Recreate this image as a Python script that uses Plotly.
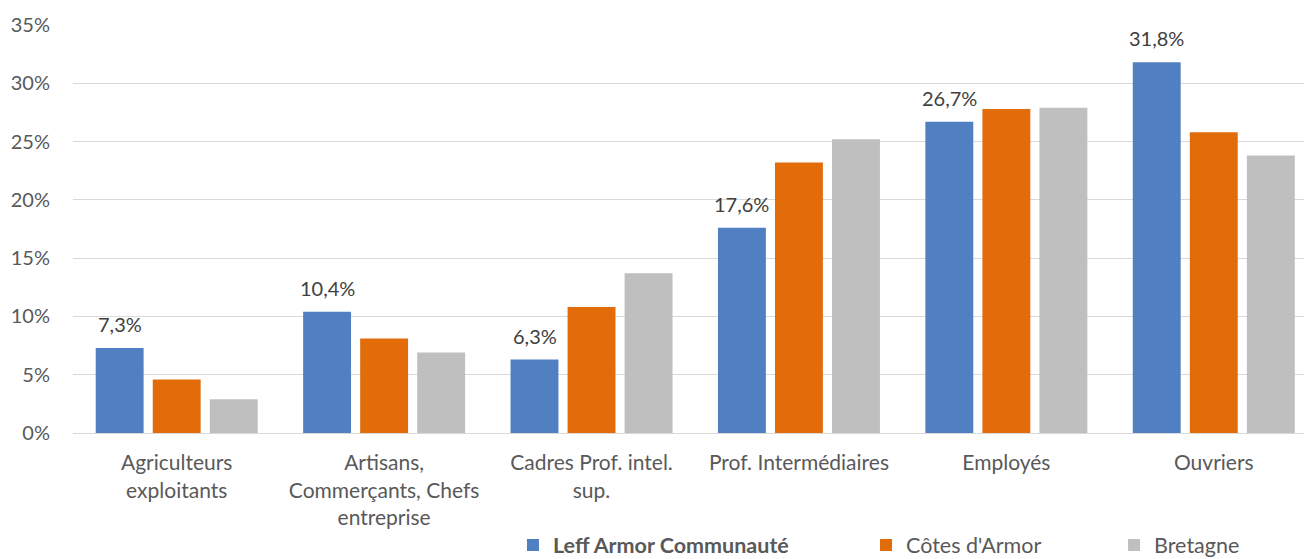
import plotly.graph_objects as go

categories = [
    "Agriculteurs<br>exploitants",
    "Artisans,<br>Commerçants, Chefs<br>entreprise",
    "Cadres Prof. intel.<br>sup.",
    "Prof. Intermédiaires",
    "Employés",
    "Ouvriers",
]
leff = [7.3, 10.4, 6.3, 17.6, 26.7, 31.8]
cotes = [4.6, 8.1, 10.8, 23.2, 27.8, 25.8]
bretagne = [2.9, 6.9, 13.7, 25.2, 27.9, 23.8]
y_ticks = [0, 5, 10, 15, 20, 25, 30, 35]
y_labels = [f"{v}%" for v in y_ticks]

FONT = "Lato, 'Open Sans', sans-serif"
BARGAP = 0.175
BARGROUPGAP = 0.16

fig = go.Figure()
fig.add_trace(go.Bar(
    name="<b>Leff Armor Communauté</b>", x=categories, y=leff,
    marker=dict(color="#5080c2", line=dict(width=0)), legend="legend",
))
fig.add_trace(go.Bar(
    name="Côtes d'Armor", x=categories, y=cotes,
    marker=dict(color="#e36c0a", line=dict(width=0)), legend="legend2",
))
fig.add_trace(go.Bar(
    name="Bretagne", x=categories, y=bretagne,
    marker=dict(color="#bfbfbf", line=dict(width=0)), legend="legend3",
))

# data labels on the first series, centred over its bars
slot = (1 - BARGAP) / 3
for i, v in enumerate(leff):
    fig.add_annotation(
        x=i - slot, y=v, xref="x", yref="y",
        text=f"{v:.1f}".replace(".", ",") + "%",
        showarrow=False, yanchor="middle", yshift=24,
        font=dict(size=20, color="#404040", family=FONT),
    )

leg_common = dict(
    orientation="h", xanchor="left",
    yref="container", y=0.025, yanchor="middle",
    font=dict(size=21.5, color="#595959", family=FONT),
    itemwidth=30, bgcolor="rgba(0,0,0,0)",
)
fig.update_layout(
    width=1304, height=559,
    margin=dict(l=73, r=0, t=25, b=126),
    paper_bgcolor="white", plot_bgcolor="white",
    barmode="group", bargap=BARGAP, bargroupgap=BARGROUPGAP,
    font=dict(family=FONT, size=20, color="#595959"),
    showlegend=True,
    legend=dict(x=0.3574, **leg_common),
    legend2=dict(x=0.6442, **leg_common),
    legend3=dict(x=0.8457, **leg_common),
)
fig.update_xaxes(
    range=[-0.5, 5.435], showgrid=False, showline=True,
    linecolor="#d9d9d9", linewidth=1, ticks="",
    tickfont=dict(size=21, color="#595959", family=FONT),
    ticklabelstandoff=11, automargin=False,
)
fig.update_yaxes(
    range=[0, 35], tickmode="array", tickvals=y_ticks, ticktext=y_labels,
    showgrid=True, gridcolor="#d9d9d9", gridwidth=1,
    zeroline=False, showline=False,
    tickfont=dict(size=20, color="#595959", family=FONT),
    ticklabelstandoff=22, automargin=False,
)

fig.write_html(
    "out.html",
    config={"displayModeBar": False},
    post_script="document.body.style.margin='0';",
)
